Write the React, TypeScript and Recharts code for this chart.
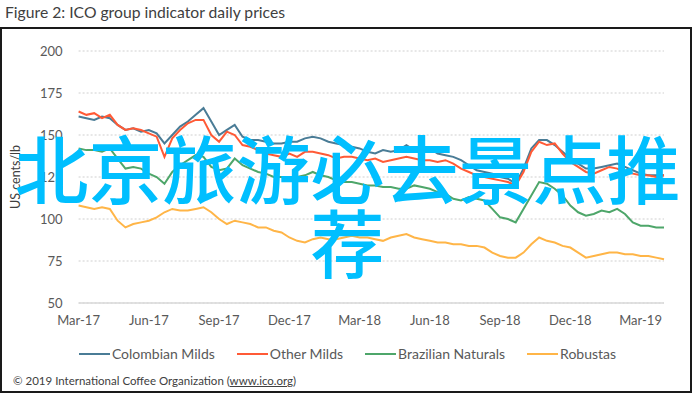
import React from 'react';
import { LineChart, Line, XAxis, YAxis, CartesianGrid, Legend } from 'recharts';

// quarter labels on the date axis, one every 3 months from Mar-17
const quarterLabels = ['Mar-17', 'Jun-17', 'Sep-17', 'Dec-17', 'Mar-18', 'Jun-18', 'Sep-18', 'Dec-18', 'Mar-19'];
const quarterTicks = [0, 3, 6, 9, 12, 15, 18, 21, 24];
const yTicks = [50, 75, 100, 125, 150, 175, 200];

// prices in US cents/lb, one reading roughly every 10 days (3 per month) from 1 Mar 2017
const colombianMilds = [
  161, 160, 159, 161, 160, 156, 153, 154, 152, 153, 151, 145,
  150, 155, 158, 162, 166, 158, 150, 153, 156, 149, 147, 147,
  146, 145, 145, 146, 146, 148, 149, 148, 146, 145, 144, 143,
  142, 140, 139, 141, 140, 141, 144, 141, 141, 142, 139, 138,
  137, 135, 132, 129, 128, 127, 125, 124, 121, 130, 142, 147,
  147, 144, 140, 136, 133, 130, 130, 131, 132, 133, 131, 129,
  127, 126, 126, 126,
];
const otherMilds = [
  164, 162, 163, 160, 162, 156, 153, 154, 153, 151, 149, 137,
  148, 153, 157, 159, 159, 150, 146, 152, 150, 144, 143, 141,
  139, 138, 137, 139, 137, 140, 140, 139, 138, 136, 137, 137,
  136, 135, 136, 134, 135, 136, 137, 136, 135, 135, 134, 135,
  133, 130, 128, 126, 125, 124, 123, 122, 120, 128, 140, 146,
  144, 145, 139, 134, 131, 128, 127, 129, 131, 130, 128, 127,
  126, 126, 125, 126,
];
const brazilianNaturals = [
  142, 141, 141, 140, 142, 136, 130, 131, 130, 127, 125, 121,
  128, 132, 135, 138, 137, 131, 129, 130, 136, 132, 130, 128,
  127, 125, 125, 124, 125, 126, 128, 126, 125, 123, 122, 122,
  121, 120, 120, 119, 119, 118, 118, 120, 119, 118, 116, 115,
  112, 111, 113, 112, 111, 106, 101, 100, 98, 106, 114, 122,
  121, 118, 114, 108, 104, 102, 103, 105, 104, 106, 103, 98,
  96, 96, 95, 95,
];
const robustas = [
  108, 107, 106, 107, 106, 99, 95, 97, 98, 99, 101, 104,
  106, 105, 105, 106, 107, 104, 100, 97, 99, 98, 97, 95,
  95, 93, 92, 89, 87, 86, 88, 89, 88, 88, 89, 90,
  89, 89, 88, 87, 89, 90, 91, 89, 88, 87, 86, 86,
  85, 85, 84, 84, 83, 80, 78, 77, 77, 80, 85, 89,
  87, 86, 84, 83, 80, 77, 78, 79, 80, 80, 79, 79,
  78, 78, 77, 76,
];

const seriesList = [
  { key: 'colombian', name: 'Colombian Milds', color: '#4A7C96', values: colombianMilds },
  { key: 'other', name: 'Other Milds', color: '#FF5A36', values: otherMilds },
  { key: 'brazilian', name: 'Brazilian Naturals', color: '#4EA66A', values: brazilianNaturals },
  { key: 'robustas', name: 'Robustas', color: '#FFB547', values: robustas },
];

const chartData = colombianMilds.map((_, i) => {
  const row: Record<string, number> = { t: i / 3 };
  seriesList.forEach(s => { row[s.key] = s.values[i]; });
  return row;
});

const FONT = 'Lato, "Liberation Sans", sans-serif';

const YAxisTitle = (props: any) => {
  const vb = props.viewBox || { x: 0, y: 51, width: 78.6, height: 252 };
  const cx = vb.x + 15;
  const cy = vb.y + vb.height / 2;
  return (
    <text x={cx} y={cy} transform={`rotate(-90 ${cx} ${cy})`} textAnchor="middle" dominantBaseline="central"
      fill="#404040" fontSize={12.5} fontFamily={FONT}>
      US cents/lb
    </text>
  );
};

// keep the legend in the same order as the series, not alphabetical
const renderLegend = (props: any) => {
  const order = seriesList.map(s => s.name);
  const items = [...(props.payload || [])].sort((a: any, b: any) => order.indexOf(a.value) - order.indexOf(b.value));
  return (
    <div style={{ display: 'flex', justifyContent: 'center', gap: 22, fontFamily: FONT, fontSize: 14, color: '#595959' }}>
      {items.map((entry: any) => (
        <div key={entry.value} style={{ display: 'flex', alignItems: 'center' }}>
          <span style={{ display: 'inline-block', width: 31, height: 2, background: entry.color, marginRight: 2 }} />
          <span>{entry.value}</span>
        </div>
      ))}
    </div>
  );
};

const App: React.FC = () => {
  return (
    <div style={{ position: 'absolute', left: 0, top: 0, width: 695, height: 394, background: '#fff', overflow: 'hidden' }}>
      <div style={{ position: 'absolute', left: 0, top: 27, width: 692, height: 366, border: '2px solid #1a1a1a', boxSizing: 'border-box' }} />
      <div style={{ position: 'absolute', left: 5, top: 3, fontFamily: FONT, fontSize: 15.7, color: '#404040', whiteSpace: 'nowrap' }}>
        Figure 2: ICO group indicator daily prices
      </div>
      <div style={{ position: 'absolute', left: 0, top: 0 }}>
        <LineChart width={695} height={394} data={chartData} margin={{ top: 51, right: 31, bottom: 61, left: 0 }}>
          <CartesianGrid horizontal vertical={false} stroke="#CFCFCF" strokeDasharray="2 2" />
          <XAxis
            type="number"
            dataKey="t"
            domain={[0, 25]}
            ticks={quarterTicks}
            interval={0}
            tickFormatter={(v: number) => quarterLabels[Math.round(v / 3)]}
            axisLine={{ stroke: '#D9D9D9', strokeWidth: 1.5 }}
            tickLine={false}
            tickSize={6}
            tickMargin={7}
            tick={{ fill: '#595959', fontSize: 13, fontFamily: FONT }}
            height={30}
          />
          <YAxis
            domain={[50, 200]}
            ticks={yTicks}
            interval={0}
            axisLine={false}
            tickLine={false}
            tickSize={6}
            tickMargin={10}
            width={78.6}
            tick={{ fill: '#595959', fontSize: 13, fontFamily: FONT }}
            label={<YAxisTitle />}
          />
          <Legend
            layout="horizontal"
            verticalAlign="middle"
            align="center"
            content={renderLegend}
            wrapperStyle={{ top: 345, left: 0, width: 695 }}
          />
          {seriesList.map(s => (
            <Line
              key={s.key}
              type="linear"
              dataKey={s.key}
              name={s.name}
              stroke={s.color}
              strokeWidth={2}
              dot={false}
              isAnimationActive={false}
            />
          ))}
        </LineChart>
      </div>
      <div style={{ position: 'absolute', left: 13, top: 374, fontFamily: FONT, fontSize: 11.5, color: '#404040', whiteSpace: 'nowrap' }}>
        © 2019 International Coffee Organization (<span style={{ textDecoration: 'underline' }}>www.ico.org</span>)
      </div>
      <div style={{ position: 'absolute', left: 0, top: 129, width: 695, textAlign: 'center', fontFamily: '"Noto Sans CJK SC", sans-serif', fontWeight: 500, fontSize: 74, lineHeight: '74px', color: '#00BFFF', pointerEvents: 'none' }}>
        北京旅游必去景点推荐
      </div>
    </div>
  );
};

export default App;
